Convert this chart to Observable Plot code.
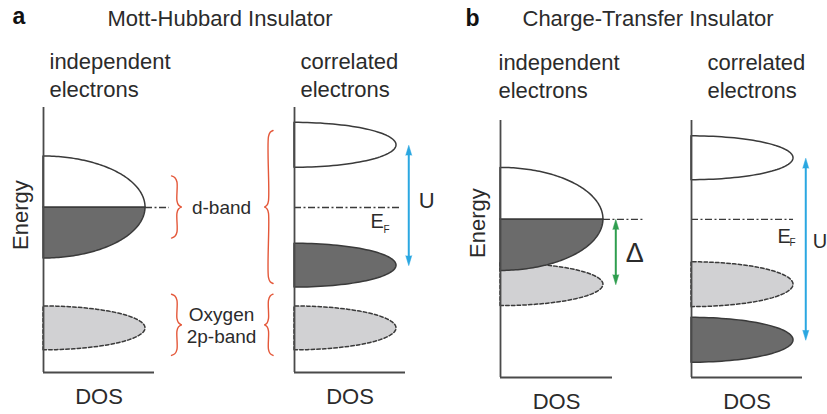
<!DOCTYPE html>
<html>
<head>
<meta charset="utf-8">
<script src="https://cdn.jsdelivr.net/npm/d3@7"></script>
<script src="https://cdn.jsdelivr.net/npm/@observablehq/plot@0.6"></script>
<style>
  html, body { margin: 0; padding: 0; background: #fff; overflow: hidden; }
  #figure { position: relative; width: 827px; height: 414px; }
  #figure > svg { position: absolute; top: 0; }
</style>
</head>
<body>
<div id="figure"></div>
<script>
// ---- Text ----
const panelLetters = ["a", "b"];
const panelTitles = ["Mott-Hubbard Insulator", "Charge-Transfer Insulator"];
const columnTitles = ["independent\nelectrons", "correlated\nelectrons"];
const dosLabel = "DOS";
const energyLabel = "Energy";
const braceLabels = ["d-band", "Oxygen\n2p-band"];

// ---- Bands: centre, half-width and peak DOS (energy in units of the d-band half-width) ----
const fermiLevel = 0;
const mottIndependent = [
  {band: "O 2p", center: -2.37, halfWidth: 0.43, peak: 1.0},
  {band: "d", center: 0, halfWidth: 1.0, peak: 1.0}
];
const mottCorrelated = [
  {band: "O 2p", center: -2.37, halfWidth: 0.43, peak: 1.0},
  {band: "d", center: -1.14, halfWidth: 0.43, peak: 1.0},
  {band: "d", center: 1.22, halfWidth: 0.44, peak: 1.0}
];
const ctIndependent = [
  {band: "O 2p", center: -1.28, halfWidth: 0.42, peak: 1.0},
  {band: "d", center: 0, halfWidth: 1.01, peak: 1.0}
];
const ctCorrelated = [
  {band: "O 2p", center: -1.28, halfWidth: 0.44, peak: 1.0},
  {band: "d", center: -2.37, halfWidth: 0.44, peak: 1.0},
  {band: "d", center: 1.2, halfWidth: 0.43, peak: 1.0}
];

// Energy window shown on each panel's axis
const mottEnergyRange = [-3.235, 1.961];
const ctEnergyRange = [-3.1, 1.94];

// Gaps: U between the Hubbard bands, Δ from E_F down to the O 2p band
const mottU = {label: "U", from: 1.22, to: -1.14};
const ctU = {label: "U", from: 1.2, to: -2.37};
const ctDelta = {label: "Δ", from: 0, to: -1.28};

// Energy spans grouped by the braces of panel a
const braceSpansIndependent = [[0.62, -0.6], [-1.7, -2.9]];
const braceSpansCorrelated = [[1.51, -1.49], [-1.7, -2.9]];

// ---- Styling ----
const font = "'Liberation Sans', Arial, Helvetica, sans-serif";
const bandInk = "#3a3a3a", axisInk = "#4a4a4a", textInk = "#2b2b2b";
const occupiedFill = "#6b6b6b", emptyFill = "#ffffff", oxygenFill = "#d1d1d3";
const uBlue = "#2aa7e1", deltaGreen = "#2f9e4f", braceRed = "#e4583a";
const dosDomain = [0, 1.088];
const gapX = 1.12;

// Semi-elliptic DOS outline of each band, split at the Fermi level into occupied / empty parts
function bandOutlines(bands) {
  const rows = [];
  bands.forEach((b, i) => {
    const lo = b.center - b.halfWidth, hi = b.center + b.halfWidth;
    const parts = b.band === "O 2p" ? [[lo, hi, "oxygen"]]
      : fermiLevel <= lo ? [[lo, hi, "empty"]]
      : fermiLevel >= hi ? [[lo, hi, "occupied"]]
      : [[lo, fermiLevel, "occupied"], [fermiLevel, hi, "empty"]];
    parts.forEach(([e0, e1, state], j) => {
      const clamp = v => Math.max(-1, Math.min(1, v));
      const a0 = Math.asin(clamp((e0 - b.center) / b.halfWidth));
      const a1 = Math.asin(clamp((e1 - b.center) / b.halfWidth));
      for (let k = 0; k <= 72; ++k) {
        const a = a0 + (a1 - a0) * k / 72;
        rows.push({id: `${i}-${j}`, state, energy: b.center + b.halfWidth * Math.sin(a), dos: b.peak * Math.cos(a)});
      }
    });
  });
  return rows;
}

// DOS of the d band at the Fermi level (where the dash-dot line starts)
function dosAtFermi(bands) {
  const d = bands.find(b => b.band === "d" && Math.abs(fermiLevel - b.center) <= b.halfWidth);
  return d ? d.peak * Math.sqrt(1 - ((fermiLevel - d.center) / d.halfWidth) ** 2) : 0;
}

// Curly brace as two curved halves meeting at a pointed tip; width > 0 points the tip right
function braceLine(id, [top, bottom], x, width) {
  const mid = (top + bottom) / 2;
  const half = (end, sign, key) => [
    [end, 0], [end - sign * 0.035, 0.35], [end - sign * 0.12, 0.56],
    [mid + sign * 0.12, 0.56], [mid + sign * 0.04, 0.72], [mid, 1]
  ].map(([energy, f]) => ({id: id + key, energy, x: x + width * f}));
  return [...half(top, 1, "t"), ...half(bottom, -1, "b")];
}

function gapArrow(gap, color, fontSize, dx, dy) {
  const heads = [
    {energy: gap.from, angle: gap.from > gap.to ? 0 : 180},
    {energy: gap.to, angle: gap.to > gap.from ? 0 : 180}
  ];
  return [
    Plot.ruleX([gap], {x: gapX, y1: "from", y2: "to", stroke: color, strokeWidth: 2, insetTop: 5, insetBottom: 5}),
    Plot.vector(heads, {x: gapX, y: "energy", rotate: "angle", length: 10, r: 3, shape: "spike", anchor: "end", fill: color, stroke: color, strokeWidth: 0.5}),
    Plot.text([gap], {x: gapX, y: d => (d.from + d.to) / 2, text: "label", textAnchor: "start", dx, dy, fontSize, fill: textInk})
  ];
}

function fermiLabel(x, dy, subDx, subDy) {
  return [
    Plot.text([fermiLevel], {x, y: d => d, text: () => "E", textAnchor: "start", lineAnchor: "bottom", dy, fontSize: 20, fill: textInk}),
    Plot.text([fermiLevel], {x, y: d => d, text: () => "F", textAnchor: "start", lineAnchor: "bottom", dx: subDx, dy: subDy, fontSize: 10, fill: textInk})
  ];
}

function text(label, options) {
  return Plot.text([label], {text: d => d, fill: textInk, ...options});
}

function columnPlot({bands, energyRange, left, width, marginLeft, marginRight, marginTop, marginBottom, fermiX2, header, energyOffset, extra = []}) {
  const outline = bandOutlines(bands);
  const area = (state, options) => Plot.areaX(outline, {
    filter: d => d.state === state, y: "energy", x1: 0, x2: "dos", z: "id",
    stroke: bandInk, strokeWidth: 1.5, ...options
  });
  const plot = Plot.plot({
    width, height: 414, marginLeft, marginRight, marginTop, marginBottom,
    x: {domain: dosDomain, axis: null},
    y: {domain: energyRange, axis: null},
    style: {fontFamily: font, background: "transparent", overflow: "visible"},
    marks: [
      area("oxygen", {fill: oxygenFill, strokeDasharray: "3.5,2.2"}),
      area("occupied", {fill: occupiedFill}),
      area("empty", {fill: emptyFill}),
      Plot.ruleY([fermiLevel], {x1: dosAtFermi(bands), x2: fermiX2, stroke: bandInk, strokeWidth: 1.3, strokeDasharray: "7,2.5,2,2.5"}),
      ...extra,
      Plot.ruleX([0], {stroke: axisInk, strokeWidth: 1.8}),
      Plot.ruleY([energyRange[0]], {stroke: axisInk, strokeWidth: 1.8}),
      text(header.label, {frameAnchor: "top-left", textAnchor: "start", lineAnchor: "bottom", dx: header.dx, dy: header.dy, fontSize: 22, lineHeight: 1.27}),
      text(dosLabel, {frameAnchor: "bottom", lineAnchor: "bottom", dy: 31, fontSize: 22}),
      ...(energyOffset ? [text(energyLabel, {frameAnchor: "left", rotate: -90, lineAnchor: "bottom", dx: energyOffset[0], dy: energyOffset[1], fontSize: 22})] : [])
    ]
  });
  plot.style.left = `${left}px`;
  return plot;
}

function panelTitle(i, letterDx, letterDy, titleDx, titleDy) {
  return [
    text(panelLetters[i], {frameAnchor: "top-left", textAnchor: "start", lineAnchor: "bottom", dx: letterDx, dy: letterDy, fontSize: 23, fontWeight: "bold", fill: "#111"}),
    text(panelTitles[i], {frameAnchor: "top-left", textAnchor: "start", lineAnchor: "bottom", dx: titleDx, dy: titleDy, fontSize: 22})
  ];
}

// Braces and their labels between the two columns of panel a
const braceMarks = [
  Plot.line(braceSpansIndependent.flatMap((s, i) => braceLine(`in${i}`, s, 1.255, 0.095)),
    {x: "x", y: "energy", z: "id", curve: "catmull-rom", stroke: braceRed, strokeWidth: 1.4}),
  Plot.line(braceSpansCorrelated.flatMap((s, i) => braceLine(`co${i}`, s, 2.25, -0.08)),
    {x: "x", y: "energy", z: "id", curve: "catmull-rom", stroke: braceRed, strokeWidth: 1.4}),
  Plot.text(braceLabels.map((label, i) => ({label, energy: (braceSpansIndependent[i][0] + braceSpansIndependent[i][1]) / 2})),
    {x: 1.745, y: "energy", text: "label", fontSize: 19, lineHeight: 1.16, fill: textInk})
];

const figure = document.getElementById("figure");

// Panel a: Mott-Hubbard insulator
figure.append(columnPlot({
  bands: mottIndependent, energyRange: mottEnergyRange,
  left: 0, width: 290, marginLeft: 43, marginRight: 136, marginTop: 107, marginBottom: 42,
  fermiX2: 1.235, header: {label: columnTitles[0], dx: 6, dy: -11}, energyOffset: [-16, 10],
  extra: [...braceMarks, ...panelTitle(0, -31, -84, 64, -82)]
}));
figure.append(columnPlot({
  bands: mottCorrelated, energyRange: mottEnergyRange,
  left: 290, width: 150, marginLeft: 4, marginRight: 35, marginTop: 107, marginBottom: 42,
  fermiX2: 1.04, header: {label: columnTitles[1], dx: 6, dy: -11},
  extra: [...gapArrow(mottU, uBlue, 22, 10, -5), ...fermiLabel(0.745, 20, 13, 25)]
}));

// Panel b: charge-transfer insulator
figure.append(columnPlot({
  bands: ctIndependent, energyRange: ctEnergyRange,
  left: 440, width: 220, marginLeft: 60, marginRight: 48, marginTop: 120, marginBottom: 37,
  fermiX2: 1.39, header: {label: columnTitles[0], dx: -2, dy: -23}, energyOffset: [-16, 9],
  extra: [...gapArrow(ctDelta, deltaGreen, 27, 10, 1), ...panelTitle(1, -35, -95, 22, -95)]
}));
figure.append(columnPlot({
  bands: ctCorrelated, energyRange: ctEnergyRange,
  left: 660, width: 167, marginLeft: 31, marginRight: 25, marginTop: 120, marginBottom: 37,
  fermiX2: 1.0, header: {label: columnTitles[1], dx: 16, dy: -23},
  extra: [...gapArrow(ctU, uBlue, 20, 7, -8), ...fermiLabel(0.843, 24, 12, 27)]
}));
</script>
</body>
</html>
